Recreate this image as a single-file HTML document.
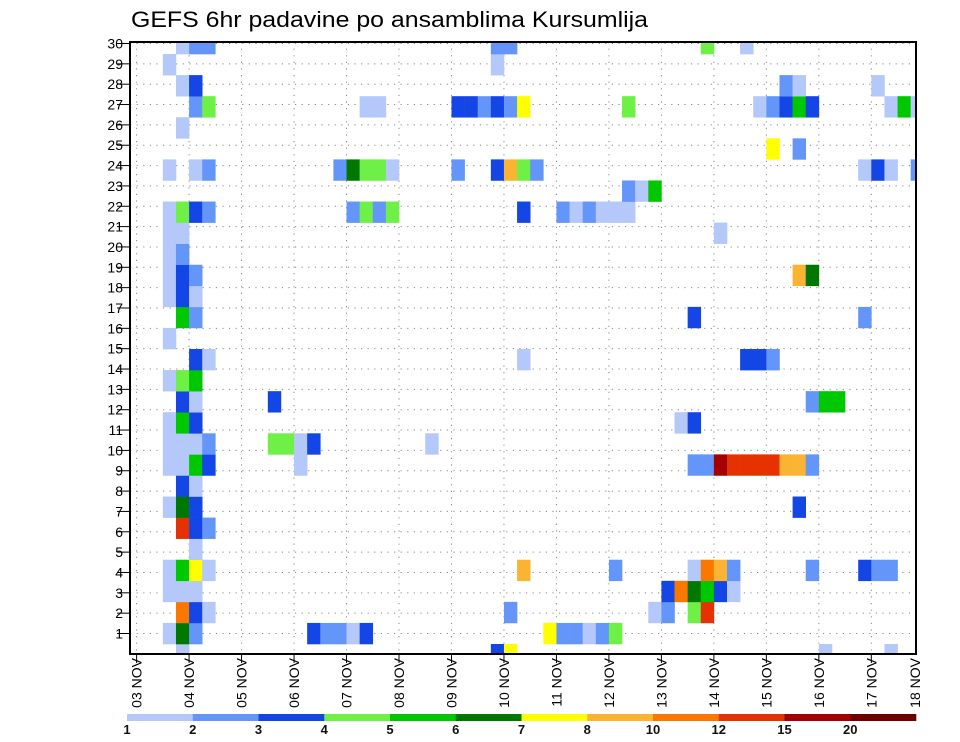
<!DOCTYPE html>
<html><head><meta charset="utf-8"><style>
html,body{margin:0;padding:0;background:#fff;}
svg{display:block;font-family:"Liberation Sans",sans-serif;}
</style></head><body>
<svg id="chart" width="960" height="742" viewBox="0 0 960 742" xmlns="http://www.w3.org/2000/svg">
<defs><clipPath id="plotclip"><rect x="130" y="42" width="786" height="612"/></clipPath></defs>
<text x="131" y="27" font-size="22" textLength="517" lengthAdjust="spacingAndGlyphs" fill="#000">GEFS 6hr padavine po ansamblima Kursumlija</text>
<g id="grid"></g>
<g id="cells" clip-path="url(#plotclip)"></g>
<rect x="130" y="42" width="786" height="612" fill="none" stroke="#000" stroke-width="2"/>
<g id="yaxis"></g>
<g id="xaxis"></g>
<g id="legend"></g>
</svg>
<script>
// level colours (index = code 1..11)
const levelColors = ["", "#b4c8fa", "#6496fa", "#1446e6", "#6ef046", "#00c800", "#007800", "#ffff00", "#fab432", "#fa7800", "#e63200", "#a50000", "#6e0000"];
const legendLabels = ["1","2","3","4","5","6","7","8","10","12","15","20"];
const dayLabels = ["03 NOV","04 NOV","05 NOV","06 NOV","07 NOV","08 NOV","09 NOV","10 NOV","11 NOV","12 NOV","13 NOV","14 NOV","15 NOV","16 NOV","17 NOV","18 NOV"];
const memberTicks = [1,2,3,4,5,6,7,8,9,10,11,12,13,14,15,16,17,18,19,20,21,22,23,24,25,26,27,28,29,30];
// per ensemble row k: [column(6h step from 03 NOV 00Z), level code]
const m29 = [[3,1],[4,2],[5,2],[27,2],[28,2],[43,4],[46,1]];
const m28 = [[2,1],[27,1]];
const m27 = [[3,1],[4,3],[49,2],[50,1],[56,1]];
const m26 = [[4,2],[5,4],[17,1],[18,1],[24,3],[25,3],[26,2],[27,3],[28,2],[29,7],[37,4],[47,1],[48,2],[49,3],[50,5],[51,3],[57,1],[58,5],[59,1]];
const m25 = [[3,1]];
const m24 = [[48,7],[50,2]];
const m23 = [[2,1],[4,1],[5,2],[15,2],[16,6],[17,4],[18,4],[19,1],[24,2],[27,3],[28,8],[29,4],[30,2],[55,1],[56,3],[57,1],[59,2]];
const m22 = [[37,2],[38,1],[39,5]];
const m21 = [[2,1],[3,4],[4,3],[5,2],[16,2],[17,4],[18,2],[19,4],[29,3],[32,2],[33,1],[34,2],[35,1],[36,1],[37,1]];
const m20 = [[2,1],[3,1],[44,1]];
const m19 = [[2,1],[3,2]];
const m18 = [[2,1],[3,3],[4,2],[50,8],[51,6]];
const m17 = [[2,1],[3,3],[4,1]];
const m16 = [[3,5],[4,2],[42,3],[55,2]];
const m15 = [[2,1]];
const m14 = [[4,3],[5,1],[29,1],[46,3],[47,3],[48,2]];
const m13 = [[2,1],[3,4],[4,5]];
const m12 = [[3,3],[4,1],[10,3],[51,2],[52,5],[53,5]];
const m11 = [[2,1],[3,5],[4,3],[41,1],[42,3]];
const m10 = [[2,1],[3,1],[4,1],[5,2],[10,4],[11,4],[12,1],[13,3],[22,1]];
const m9 = [[2,1],[3,1],[4,5],[5,3],[12,1],[42,2],[43,2],[44,11],[45,10],[46,10],[47,10],[48,10],[49,8],[50,8],[51,2]];
const m8 = [[3,3],[4,1]];
const m7 = [[2,1],[3,6],[4,3],[50,3]];
const m6 = [[3,10],[4,3],[5,2]];
const m5 = [[4,1]];
const m4 = [[2,1],[3,5],[4,7],[5,1],[29,8],[36,2],[42,1],[43,9],[44,8],[45,2],[51,2],[55,3],[56,2],[57,2]];
const m3 = [[2,1],[3,1],[4,1],[40,3],[41,9],[42,6],[43,5],[44,3],[45,1]];
const m2 = [[3,9],[4,3],[5,1],[28,2],[39,1],[40,2],[42,4],[43,10]];
const m1 = [[2,1],[3,6],[4,2],[13,3],[14,2],[15,2],[16,1],[17,3],[31,7],[32,2],[33,2],[34,1],[35,2],[36,4]];
const m0 = [[3,1],[27,3],[28,7],[52,1],[57,1]];
const members = [m0,m1,m2,m3,m4,m5,m6,m7,m8,m9,m10,m11,m12,m13,m14,m15,m16,m17,m18,m19,m20,m21,m22,m23,m24,m25,m26,m27,m28,m29];

const NS = "http://www.w3.org/2000/svg";
function mk(tag, attrs, parent){const e=document.createElementNS(NS,tag);for(const k in attrs)e.setAttribute(k,attrs[k]);parent.appendChild(e);return e;}
// axis functions
const colW = 13.12, colX0 = 136.6;
function xCol(c){return colX0 + c*colW;}
function xDay(i){return colX0 + i*4*colW;}
const rowH = 21.07;
function yCellTop(k){return 644 - rowH*k;}
function yTick(r){return 43.5 + (30-r)*20.345;}

const grid = document.getElementById('grid');
for(const r of memberTicks){
  const l = mk('line',{x1:130,x2:916,y1:yTick(r),y2:yTick(r),stroke:'#8a8a8a','stroke-width':1,'stroke-dasharray':'1.2 5.4'},grid);
  
  
}
for(let i=0;i<15;i++){
  const l = mk('line',{x1:xDay(i),x2:xDay(i),y1:42,y2:654,stroke:'#8a8a8a','stroke-width':1,'stroke-dasharray':'1.2 5.4'},grid);
  
  
}

const cellsG = document.getElementById('cells');
members.forEach((row,k)=>{
  row.forEach(([c,lv])=>{
    const r = mk('rect',{x:xCol(c),y:yCellTop(k),width:colW+0.3,height:rowH+0.3,fill:levelColors[lv]},cellsG);
    
    
  });
});

const ya = document.getElementById('yaxis');
for(const r of memberTicks){
  const y=yTick(r);
  const t = mk('line',{x1:117,x2:130,y1:y,y2:y,stroke:'#000','stroke-width':1},ya);
  
  
  const tx = mk('text',{x:123,y:y+5,'font-size':14,'text-anchor':'end',fill:'#000'},ya);
  tx.textContent = r;
  
  
}

const xa = document.getElementById('xaxis');
dayLabels.forEach((lab,i)=>{
  let x = i<15 ? xDay(i) : 915;
  if(i<15){
    const t = mk('line',{x1:x,x2:x,y1:654,y2:663,stroke:'#000','stroke-width':1},xa);
    
    
  }
  const tx = mk('text',{transform:'translate('+(x+5)+',658) rotate(-90)','font-size':14,'text-anchor':'end',fill:'#000'},xa);
  tx.textContent = lab;
  
  
});

const lg = document.getElementById('legend');
const segW = (916-127)/12;
for(let i=0;i<12;i++){
  const s = mk('rect',{x:127+i*segW,y:714,width:segW+0.3,height:7,fill:levelColors[i+1]},lg);
  
  
  const tx = mk('text',{x:127+i*segW,y:734,'font-size':13,'font-weight':'bold','text-anchor':'middle',fill:'#111'},lg);
  tx.textContent = legendLabels[i];
  
  
}
</script>
</body></html>
